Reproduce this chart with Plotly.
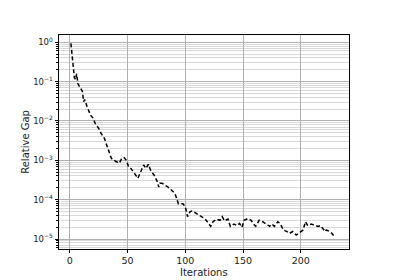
import plotly.graph_objects as go

iterations = [1, 3, 4, 5, 6, 7, 9, 11, 12, 13, 15, 18, 20, 22, 25, 27, 30, 32, 35, 36,
              40, 43, 45, 47, 49, 51, 53, 56, 59, 62, 64, 66, 68, 70, 73, 76, 77, 78, 80, 85,
              88, 91, 93, 94, 98, 100, 102, 104, 106, 109, 114, 117, 119, 122, 124, 127, 130, 132, 134, 137,
              139, 142, 145, 147, 149, 151, 154, 157, 159, 161, 164, 167, 170, 173, 175, 177, 180, 182, 185, 188,
              190, 193, 196, 198, 200, 202, 204, 206, 209, 212, 215, 217, 219, 221, 222, 225, 227, 228, 230]
relative_gap = [0.93, 0.28, 0.126, 0.112, 0.158, 0.089, 0.068, 0.056, 0.031, 0.035,
                0.023, 0.014, 0.012, 0.0087, 0.0065, 0.0049, 0.0036, 0.0025, 0.0015, 0.00112,
                0.00093, 0.00085, 0.00112, 0.00117, 0.00100, 0.00068, 0.00062, 0.00047, 0.00035, 0.00056,
                0.00076, 0.00062, 0.00079, 0.00056, 0.00042, 0.00028, 0.00021, 0.00026, 0.00026, 0.00021,
                0.000174, 0.000145, 9.8e-5, 7.9e-5, 7.9e-5, 6.6e-5, 3.7e-5, 4.9e-5, 5.2e-5, 4.5e-5,
                3.7e-5, 3.3e-5, 2.75e-5, 2.1e-5, 2.75e-5, 3.2e-5, 3.0e-5, 3.7e-5, 2.9e-5, 3.2e-5,
                2.1e-5, 2.4e-5, 2.2e-5, 2.5e-5, 2.0e-5, 3.0e-5, 3.3e-5, 3.0e-5, 2.4e-5, 2.1e-5,
                3.0e-5, 2.75e-5, 2.4e-5, 2.1e-5, 2.4e-5, 2.1e-5, 2.75e-5, 2.5e-5, 1.7e-5, 1.55e-5,
                1.38e-5, 1.55e-5, 1.26e-5, 1.38e-5, 1.55e-5, 1.7e-5, 2.75e-5, 2.2e-5, 2.4e-5, 2.2e-5,
                2.1e-5, 2.2e-5, 1.86e-5, 1.55e-5, 1.7e-5, 1.55e-5, 1.38e-5, 1.26e-5, 1.2e-5]

x_ticks = [0, 50, 100, 150, 200]
y_ticks = [1e0, 1e-1, 1e-2, 1e-3, 1e-4, 1e-5]
y_ticktext = ["10<sup>0</sup>", "10<sup>−1</sup>", "10<sup>−2</sup>", "10<sup>−3</sup>",
              "10<sup>−4</sup>", "10<sup>−5</sup>"]
minor_vals = [m * 10.0 ** e for e in range(-6, 1) for m in range(2, 10)]

fig = go.Figure()
fig.add_trace(go.Scatter(x=iterations, y=relative_gap, mode="lines",
                         line=dict(color="black", width=1.5, dash="4px,2.5px")))

font = dict(family="DejaVu Sans", size=10, color="#1a1a1a")
xtickfont = dict(family="DejaVu Sans", size=9.5, color="#1a1a1a")
tickfont = dict(family="DejaVu Sans", size=8.5, color="#1a1a1a")
fig.update_layout(
    width=400, height=280,
    margin=dict(l=59, r=51, t=35, b=31),
    paper_bgcolor="white", plot_bgcolor="white",
    showlegend=False, font=font,
    xaxis=dict(range=[-9.3, 241.7], tickvals=x_ticks, showgrid=True, tickfont=xtickfont,
               gridcolor="#b0b0b0", gridwidth=0.8, zeroline=False, automargin=False,
               showline=True, mirror=True, linecolor="black", linewidth=1,
               ticks="outside", ticklen=3, tickcolor="black"),
    yaxis=dict(type="log", range=[-5.253, 0.183], tickvals=y_ticks, ticktext=y_ticktext,
               tickfont=tickfont, automargin=False,
               showgrid=True, gridcolor="#b0b0b0", gridwidth=0.8, zeroline=False,
               showline=True, mirror=True, linecolor="black", linewidth=1,
               ticks="outside", ticklen=3.5, tickcolor="black",
               minor=dict(tickvals=minor_vals, ticks="outside", ticklen=2, tickcolor="black",
                          showgrid=True, gridcolor="#d8d8d8", gridwidth=0.6)),
    annotations=[
        dict(text="Relative Gap", textangle=-90, xref="paper", yref="paper",
             x=-0.118, y=0.5, xanchor="center", yanchor="middle",
             showarrow=False, font=font),
        dict(text="Iterations", xref="paper", yref="paper",
             x=0.5, y=-0.108, xanchor="center", yanchor="middle",
             showarrow=False, font=font),
    ],
)
fig.write_html("out.html")
